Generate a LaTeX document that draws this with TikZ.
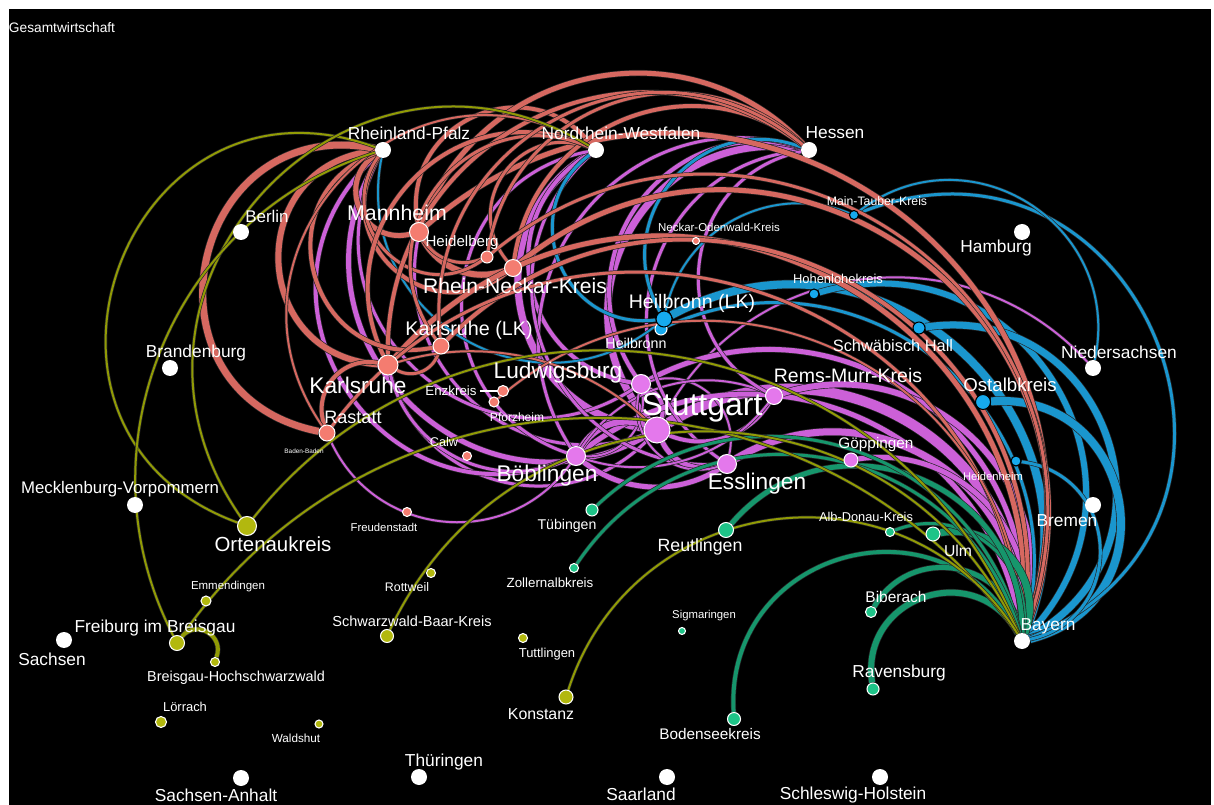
\documentclass[tikz,border=0pt]{standalone}
\usepackage{fontspec}
\setmainfont{Liberation Sans}
\pgfdeclarelayer{bg}
\pgfdeclarelayer{edges}
\pgfsetlayers{bg,edges,main}
\definecolor{cRn}{RGB}{244,124,112}
\definecolor{cRe}{RGB}{214,104,96}
\definecolor{cPn}{RGB}{228,120,236}
\definecolor{cPe}{RGB}{204,96,216}
\definecolor{cBn}{RGB}{22,170,238}
\definecolor{cBe}{RGB}{26,150,206}
\definecolor{cGn}{RGB}{30,196,136}
\definecolor{cGe}{RGB}{22,150,108}
\definecolor{cOn}{RGB}{178,184,14}
\definecolor{cOe}{RGB}{145,155,5}
\tikzset{
  cb/.code={\pgfmathsetmacro\cblo{1/(3*0.3915*cos(#1/2)*cos(#1/2))}\edef\cbtmp{\noexpand\pgfkeysalso{bend left=#1,looseness=\cblo}}\cbtmp},
  eg/.style 2 args={draw=#1, line width=#2*0.75pt, preaction={draw=black!85, line width=#2*0.75pt+1pt}},
  eR/.style={eg={cRe}{#1}},
  eP/.style={eg={cPe}{#1}},
  eB/.style={eg={cBe}{#1}},
  eG/.style={eg={cGe}{#1}},
  eO/.style={eg={cOe}{#1}},
  nd/.style 2 args={circle, inner sep=0pt, minimum size=#2*1.5pt, fill=#1},
  nR/.style={nd={cRn}{#1}, draw=white, line width=0.8pt},
  nP/.style={nd={cPn}{#1}, draw=white, line width=0.8pt},
  nB/.style={nd={cBn}{#1}, draw=black, line width=0.8pt},
  nBw/.style={nd={cBn}{#1}, draw=white, line width=0.8pt},
  nG/.style={nd={cGn}{#1}, draw=white, line width=0.8pt},
  nO/.style={nd={cOn}{#1}, draw=white, line width=0.8pt},
  nW/.style={nd={white}{#1}},
  tx/.style={text=white, inner sep=0pt, font=\fontsize{#1pt}{#1pt}\selectfont},
}
\begin{document}
\begin{tikzpicture}[x=0.75pt, y=-0.75pt]
\begin{pgfonlayer}{bg}
\fill[white] (0,0) rectangle (1214,805);
\fill[black] (9,9) rectangle (1211,805);
\end{pgfonlayer}
\useasboundingbox (0,0) rectangle (1214,805);

\node[tx=10.3] (title) at (62,28) {Gesamtwirtschaft};

% states (white)
\node[nW=8] (rlp) at (383,150) {};
\node[nW=8] (nrw) at (596,150) {};
\node[nW=8] (hes) at (809,150) {};
\node[nW=8] (ber) at (241,232) {};
\node[nW=8] (hh) at (1022,232) {};
\node[nW=8] (brb) at (170,368) {};
\node[nW=8] (nds) at (1093,368) {};
\node[nW=8] (mv) at (135,505) {};
\node[nW=8] (hb) at (1093,505) {};
\node[nW=8] (sn) at (64,640) {};
\node[nW=8] (by) at (1022,641) {};
\node[nW=8] (sa) at (241,778) {};
\node[nW=8] (th) at (419,777) {};
\node[nW=8] (sl) at (667,777) {};
\node[nW=8] (sh) at (880,777) {};
\node[tx=13] (trlp) at (409,133) {Rheinland-Pfalz};
\node[tx=13] (tnrw) at (621,133) {Nordrhein-Westfalen};
\node[tx=13] (thes) at (835,133) {Hessen};
\node[tx=12.7] (tber) at (267,216) {Berlin};
\node[tx=13] (thh) at (996,248) {Hamburg};
\node[tx=13] (tbrb) at (196,353) {Brandenburg};
\node[tx=13] (tnds) at (1119,352) {Niedersachsen};
\node[tx=12.6] (tmv) at (120,489) {Mecklenburg-Vorpommern};
\node[tx=13] (thb) at (1067,521) {Bremen};
\node[tx=13] (tsn) at (52,659) {Sachsen};
\node[tx=13] (tby) at (1048,626) {Bayern};
\node[tx=13] (tsa) at (216,795) {Sachsen-Anhalt};
\node[tx=13] (tth) at (444,762) {Thüringen};
\node[tx=13] (tsl) at (641,794) {Saarland};
\node[tx=13] (tsh) at (853,795) {Schleswig-Holstein};

% red
\node[nR=9.5] (ma) at (419,232) {};
\node[nR=6] (hd) at (487,257) {};
\node[nR=8.5] (rnk) at (513,268) {};
\node[nR=8] (kalk) at (441,346) {};
\node[nR=10] (ka) at (388,365) {};
\node[nR=5.5] (ez) at (503,391) {};
\node[nR=5] (pf) at (494,402) {};
\node[nR=8] (ra) at (327,433) {};
\node[nR=4.5] (cw) at (467,456) {};
\node[nR=4.5] (fds) at (407,512) {};
\node[nR=3.5] (nok) at (696,241) {};
\node[tx=16] (tma) at (397,213) {Mannheim};
\node[tx=11.3] (thd) at (462,243) {Heidelberg};
\node[tx=15.8] (trnk) at (515,286) {Rhein-Neckar-Kreis};
\node[tx=14.8] (tkalk) at (469,330) {Karlsruhe (LK)};
\node[tx=17] (tka) at (358,385) {Karlsruhe};
\node[tx=10] (tez) at (451,391) {Enzkreis};
\node[tx=9] (tpf) at (517,417) {Pforzheim};
\node[tx=13.5] (tra) at (353,417) {Rastatt};
\node[tx=4.8] (tbad) at (304,451) {Baden-Baden};
\node[tx=9.5] (tcw) at (444,442) {Calw};
\node[tx=8.5] (tfds) at (384,527) {Freudenstadt};
\node[tx=8.6] (tnok) at (719,227) {Neckar-Odenwald-Kreis};
\draw[white, line width=1pt, shorten <=2pt] (tez) -- (ez);

% purple
\node[nP=13] (s) at (657,430) {};
\node[nP=9.5] (lb) at (641,384) {};
\node[nP=9.5] (boe) at (576,456) {};
\node[nP=9.5] (es) at (727,464) {};
\node[nP=8.5] (rm) at (774,396) {};
\node[nP=7] (gp) at (851,460) {};
\node[tx=24] (ts) at (702,408) {Stuttgart};
\node[tx=17] (tlb) at (558,373) {Ludwigsburg};
\node[tx=17] (tboe) at (547,476) {Böblingen};
\node[tx=17] (tes) at (757,484) {Esslingen};
\node[tx=14.6] (trm) at (848,376) {Rems-Murr-Kreis};
\node[tx=11.5] (tgp) at (876,445) {Göppingen};

% blue
\node[nBw=6] (hn) at (661,329) {};
\node[nB=8] (hnlk) at (664,319) {};
\node[nB=4.5] (mt) at (854,215) {};
\node[nB=5] (hok) at (814,294) {};
\node[nB=6] (sha) at (919,328) {};
\node[nB=7.5] (oa) at (983,402) {};
\node[nB=5] (hdh) at (1016,461) {};
\node[tx=14.7] (thnlk) at (692,303) {Heilbronn (LK)};
\node[tx=10.7] (thn) at (636,343) {Heilbronn};
\node[tx=9.2] (tmt) at (877,201) {Main-Tauber-Kreis};
\node[tx=9.7] (thok) at (838,279) {Hohenlohekreis};
\node[tx=12.3] (tsha) at (893,346) {Schwäbisch Hall};
\node[tx=14] (toa) at (1010,385) {Ostalbkreis};
\node[tx=8.4] (thdh) at (993,476) {Heidenheim};

% green
\node[nG=6] (tue) at (592,510) {};
\node[nG=7.5] (rt) at (726,530) {};
\node[nG=4.5] (zak) at (574,568) {};
\node[nG=4.5] (adk) at (890,532) {};
\node[nG=7] (ulm) at (933,534) {};
\node[nG=5.5] (bc) at (871,612) {};
\node[nG=3.5] (sig) at (682,631) {};
\node[nG=6] (rv) at (873,689) {};
\node[nG=6.5] (fn) at (734,719) {};
\node[tx=10.6] (ttue) at (567,526) {Tübingen};
\node[tx=13.3] (trt) at (700,547) {Reutlingen};
\node[tx=10] (tzak) at (550,583) {Zollernalbkreis};
\node[tx=9.6] (tadk) at (866,517) {Alb-Donau-Kreis};
\node[tx=11.8] (tulm) at (958,551) {Ulm};
\node[tx=11.6] (tbc) at (896,597) {Biberach};
\node[tx=8.5] (tsig) at (704,616) {Sigmaringen};
\node[tx=13] (trv) at (899,673) {Ravensburg};
\node[tx=11.5] (tfn) at (710,734) {Bodenseekreis};

% olive
\node[nO=9.5] (og) at (247,526) {};
\node[nO=4.5] (rw) at (431,573) {};
\node[nO=5] (em) at (206,601) {};
\node[nO=6.5] (sbk) at (387,636) {};
\node[nO=4.5] (tut) at (523,638) {};
\node[nO=7.5] (fr) at (177,643) {};
\node[nO=4.5] (bh) at (215,662) {};
\node[nO=5.5] (loe) at (161,722) {};
\node[nO=4] (wt) at (319,724) {};
\node[nO=7] (kn) at (566,697) {};
\node[tx=15.3] (tog) at (273,544) {Ortenaukreis};
\node[tx=9.3] (trw) at (407,587) {Rottweil};
\node[tx=8.6] (tem) at (228,587) {Emmendingen};
\node[tx=10.9] (tsbk) at (412,621) {Schwarzwald-Baar-Kreis};
\node[tx=9.7] (ttut) at (547,654) {Tuttlingen};
\node[tx=13] (tfr) at (155,628) {Freiburg im Breisgau};
\node[tx=10.8] (tbh) at (236,678) {Breisgau-Hochschwarzwald};
\node[tx=9.7] (tloe) at (185,707) {Lörrach};
\node[tx=8.8] (twt) at (296,738) {Waldshut};
\node[tx=11.9] (tkn) at (541,714) {Konstanz};

\begin{pgfonlayer}{edges}
% purple
\draw[eP=10,cb=62] (s) to (by);
\draw[eP=7,cb=70] (s) to (hes);
\draw[eP=7,cb=70] (s) to (nrw);
\draw[eP=5,cb=75] (s) to (rlp);
\draw[eP=2,cb=55] (s) to (nds);
\draw[eP=3,cb=60] (s) to (ma);
\draw[eP=3,cb=60] (s) to (ka);
\draw[eP=4,cb=70] (lb) to (hes);
\draw[eP=4,cb=70] (lb) to (nrw);
\draw[eP=3,cb=75] (lb) to (rlp);
\draw[eP=5,cb=62] (lb) to (by);
\draw[eP=4,cb=40] (lb) to (s);
\draw[eP=2,cb=50] (lb) to (boe);
\draw[eP=2,cb=60] (lb) to (es);
\draw[eP=3,cb=70] (boe) to (hes);
\draw[eP=3,cb=75] (boe) to (nrw);
\draw[eP=4,cb=80] (boe) to (rlp);
\draw[eP=5,cb=60] (boe) to (by);
\draw[eP=6,cb=40] (boe) to (s);
\draw[eP=3,cb=50] (boe) to (ka);
\draw[eP=2,cb=60] (boe) to (ra);
\draw[eP=2,cb=40] (boe) to (rm);
\draw[eP=7,cb=62] (es) to (by);
\draw[eP=3,cb=70] (es) to (hes);
\draw[eP=3,cb=70] (es) to (nrw);
\draw[eP=5,cb=40] (es) to (s);
\draw[eP=5,cb=35] (es) to (boe);
\draw[eP=2,cb=60] (es) to (lb);
\draw[eP=6,cb=62] (rm) to (by);
\draw[eP=3,cb=70] (rm) to (hes);
\draw[eP=4,cb=40] (rm) to (s);
\draw[eP=2,cb=35] (rm) to (boe);
\draw[eP=5,cb=55] (gp) to (by);
% blue
\draw[eB=8,cb=70] (hnlk) to (by);
\draw[eB=3,cb=70] (hnlk) to (hes);
\draw[eB=3,cb=75] (hnlk) to (nrw);
\draw[eB=2,cb=70] (hnlk) to (rlp);
\draw[eB=2,cb=50] (hnlk) to (mt);
\draw[eB=3,cb=65] (hn) to (by);
\draw[eB=6,cb=75] (hok) to (by);
\draw[eB=7,cb=80] (sha) to (by);
\draw[eB=8,cb=85] (oa) to (by);
\draw[eB=3,cb=90] (mt) to (by);
\draw[eB=2,cb=70] (mt) to (nds);
\draw[eB=3,cb=80] (hdh) to (by);
% red
\draw[eR=5,cb=80] (ma) to (rlp);
\draw[eR=4,cb=75] (ma) to (nrw);
\draw[eR=5,cb=58] (ma) to (hes);
\draw[eR=5,cb=75] (ma) to (by);
\draw[eR=6,cb=40] (rnk) to (ma);
\draw[eR=3,cb=40] (hd) to (ma);
\draw[eR=4,cb=80] (rnk) to (rlp);
\draw[eR=3,cb=75] (rnk) to (nrw);
\draw[eR=4,cb=60] (rnk) to (hes);
\draw[eR=5,cb=75] (rnk) to (by);
\draw[eR=3,cb=80] (hd) to (rlp);
\draw[eR=3,cb=62] (hd) to (hes);
\draw[eR=3,cb=75] (hd) to (by);
\draw[eR=6,cb=85] (ka) to (rlp);
\draw[eR=4,cb=70] (ka) to (nrw);
\draw[eR=4,cb=64] (ka) to (hes);
\draw[eR=5,cb=72] (ka) to (by);
\draw[eR=4,cb=85] (kalk) to (rlp);
\draw[eR=3,cb=75] (kalk) to (nrw);
\draw[eR=3,cb=68] (kalk) to (hes);
\draw[eR=4,cb=72] (kalk) to (by);
\draw[eR=3,cb=50] (kalk) to (ka);
\draw[eR=7,cb=90] (ra) to (rlp);
\draw[eR=4,cb=60] (ra) to (ka);
\draw[eR=2,cb=78] (ra) to (nrw);
\draw[eR=3,cb=70] (ra) to (by);
\draw[eR=2,cb=30] (ka) to (s);
\draw[eR=2,cb=65] (pf) to (by);
% green
\draw[eG=6,cb=80] (rv) to (by);
\draw[eG=4,cb=78] (fn) to (by);
\draw[eG=5,cb=70] (bc) to (by);
\draw[eG=7,cb=60] (ulm) to (by);
\draw[eG=3,cb=60] (adk) to (by);
\draw[eG=5,cb=70] (rt) to (by);
\draw[eG=3,cb=60] (tue) to (by);
\draw[eG=3,cb=65] (zak) to (by);
% olive
\draw[eO=2,cb=60] (og) to (by);
\draw[eO=2,cb=55] (fr) to (by);
\draw[eO=2,cb=65] (sbk) to (by);
\draw[eO=2,cb=65] (kn) to (by);
\draw[eO=4,cb=80] (fr) to (bh);
\draw[eO=2,cb=90] (og) to (rlp);
\draw[eO=2,cb=78] (og) to (nrw);
\draw[eO=2,cb=50] (fr) to (rlp);
\end{pgfonlayer}
\end{tikzpicture}
\end{document}
